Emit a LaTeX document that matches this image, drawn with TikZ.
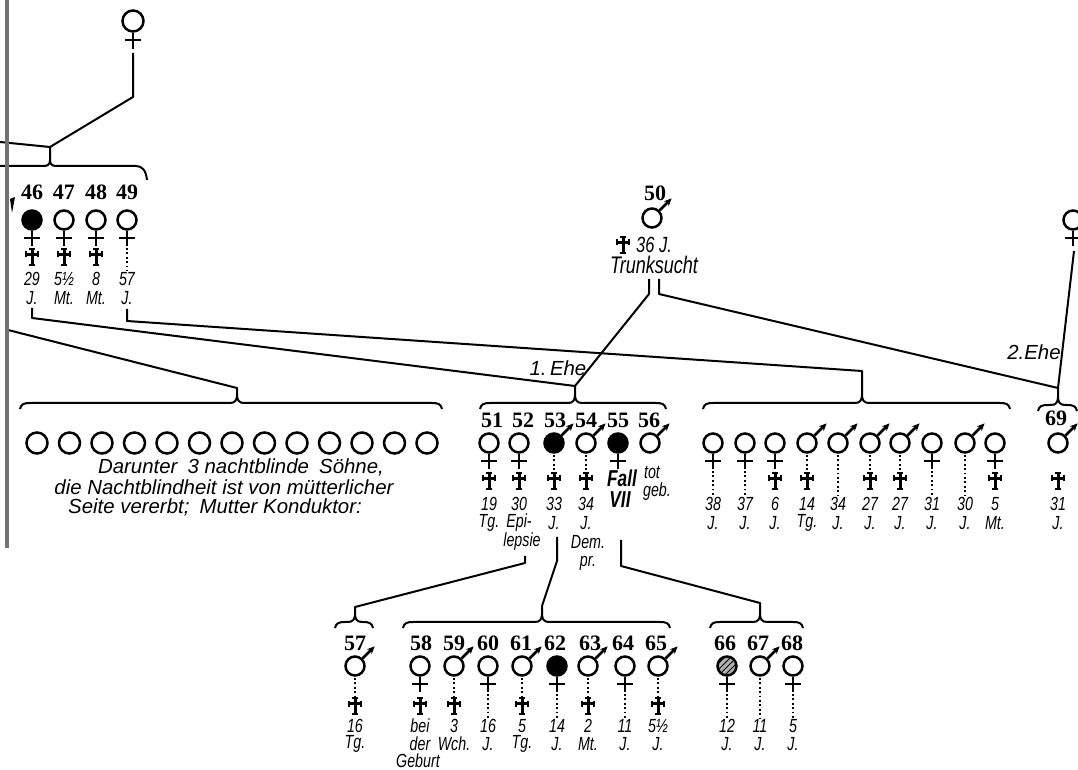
\documentclass[tikz,border=0pt]{standalone}
\usepackage{fontspec}
\setmainfont{Liberation Serif}
\newfontfamily\labfont{Liberation Sans}[FakeStretch=0.75]
\newfontfamily\txtfont{Liberation Sans}
\usetikzlibrary{arrows.meta,patterns}

\tikzset{
  conn/.style={line width=1pt, line join=round},
  symline/.style={line width=1.25pt},
  sym/.style={circle, draw, line width=1.25pt, minimum size=9.5pt, inner sep=0pt},
  aff/.style={sym, fill=black},
  hatch/.style={sym, preaction={fill=black!30}, pattern=north east lines},
  unk/.style={sym, minimum size=10.5pt},
  nr/.style={font=\bfseries\fontsize{11}{12}\selectfont, inner sep=0pt},
  lab/.style={font=\labfont\itshape\fontsize{9.5}{10}\selectfont, inner sep=0pt},
  txt/.style={font=\txtfont\itshape\fontsize{10.2}{11}\selectfont, inner sep=0pt},
  dots/.style={line width=0.9pt, dash pattern=on 0.9pt off 1.3pt},
  deathcross/.pic={
    \draw[line width=1.5pt] (0,-8) -- (0,8) (-6,-2.5) -- (6,-2.5);
    \draw[line width=1pt] (-3,-8) -- (3,-8) (-3,8) -- (3,8)
      (-6,-5.5) -- (-6,0.5) (6,-5.5) -- (6,0.5);
  }
}

% Person: Name, x, y, Geschlecht f/m, Stil, Modus (0 nichts, 1 Kreuz, 2 Punkte+Kreuz, 3 Punkte), Zeile 1, Zeile 2
\newcommand{\indiv}[8]{%
  \node[#5] (#1) at (#2,#3) {};
  \if#4m
    \draw[symline,-{Stealth[length=3.8pt,width=3.4pt]}] (#1.45) -- ++(12,-12);
    \def\dstart{#3+12}%
  \else
    \draw[symline] (#1.south) -- ++(0,15) ({#2-8},{#3+18}) -- ({#2+8},{#3+18});
    \def\dstart{#3+28}%
  \fi
  \ifcase#6\relax
  \or \pic at (#2,{#3+\cdy}) {deathcross};
  \or \draw[dots] (#2,{\dstart}) -- (#2,{#3+\cdy-9}); \pic at (#2,{#3+\cdy}) {deathcross};
  \or \draw[dots] (#2,{\dstart}) -- (#2,{#3+\ldy-8});
  \fi
  \node[lab] at (#2,{#3+\ldy}) {#7};
  \node[lab] at (#2,{#3+\ldy+\lgap}) {#8};
}

% Geschwisterklammer: x links, x Spitze, x rechts, y, Name der Spitze
\newcommand{\fbrace}[5]{%
  \draw[conn] ({#1},{#4+6}) .. controls ({#1+1},{#4+1}) and ({#1+4},{#4}) .. ({#1+10},{#4})
    -- ({#2-7},{#4}) .. controls ({#2-2},{#4}) and ({#2},{#4-3}) .. ({#2},{#4-8})
    .. controls ({#2},{#4-3}) and ({#2+2},{#4}) .. ({#2+7},{#4})
    -- ({#3-10},{#4}) .. controls ({#3-4},{#4}) and ({#3-1},{#4+1}) .. ({#3},{#4+6});
  \coordinate (#5) at ({#2},{#4-8});
}

\begin{document}
\begin{tikzpicture}[x=0.5pt,y=-0.5pt]
  \fill[white] (0,0) rectangle (1078,770);
  \useasboundingbox (0,0) rectangle (1078,770);
  \clip (0,0) rectangle (1078,770);

  % Ahnin oben links
  \node[sym, minimum size=10.5pt] (a1) at (133,21) {};
  \draw[symline] (a1.south) -- ++(0,16) (125,40) -- (141,40);
  \coordinate (a1s) at (133,53);
  \coordinate (k0) at (133,97);
  \coordinate (j0) at (50,147);
  \coordinate (e0) at (0,142);
  \coordinate (b0) at (50,160);
  \draw[conn] (a1s) -- (k0) -- (j0);
  \draw[conn] (e0) -- (j0) -- (b0);
  \draw[conn] (-40,166) -- (44,166) .. controls (48,166) and (50,164) .. (b0)
    .. controls (50,164) and (52,166) .. (56,166) -- (136,166)
    .. controls (142,166) and (146,170) .. (147,180);

  % Geschwister 46-49
  \foreach \n/\x in {46/32,47/64,48/96,49/127}
    \node[nr] at (\x,192) {\n};
  \def\cdy{37}\def\ldy{59}\def\lgap{19}
  \indiv{p46}{32}{220}{f}{aff}{1}{29}{J.}
  \indiv{p47}{64}{220}{f}{sym}{1}{5½}{Mt.}
  \indiv{p48}{96}{220}{f}{sym}{1}{8}{Mt.}
  \indiv{p49}{127}{220}{f}{sym}{3}{57}{J.}
  \fill (10,199) -- (15,197) -- (12,213) -- cycle;

  % 50 mit zwei Ehen
  \node[nr] at (655,193) {50};
  \node[sym] (p50) at (652,218) {};
  \draw[symline,-{Stealth[length=3.8pt,width=3.4pt]}] (p50.45) -- ++(12,-12);
  \pic at (623,245) {deathcross};
  \node[lab, font=\labfont\itshape\fontsize{11}{11}\selectfont] at (654,245) {36 J.};
  \node[lab, font=\labfont\itshape\fontsize{12}{12}\selectfont] at (654,265) {Trunksucht};
  \coordinate (s50a) at (649,279);
  \coordinate (s50b) at (659,279);

  % zweite Frau rechts oben
  \node[sym] (w2) at (1073,220) {};
  \draw[symline] (w2.south) -- ++(0,15) (1065,238) -- (1081,238);
  \coordinate (w2s) at (1074,251);

  % Klammern der Geschwisterreihen
  \fbrace{20}{237}{442}{403}{b4}
  \fbrace{480}{575}{666}{403}{b1}
  \fbrace{703}{862}{1010}{403}{b2}
  \fbrace{1038}{1058}{1077}{405}{b3}
  \fbrace{335}{355}{373}{622}{b5}
  \fbrace{403}{542}{670}{622}{b6}
  \fbrace{710}{760}{803}{622}{b7}

  % Verbindungen der Eltern
  \coordinate (e1) at (8,330);
  \coordinate (j4) at (237,388);
  \coordinate (l46) at (32,308);
  \coordinate (l49) at (127,309);
  \coordinate (j1) at (575,386);
  \coordinate (j2) at (862,371);
  \coordinate (j3) at (1058,388);
  \draw[conn] (e1) -- (j4) -- (b4);
  \draw[conn] (l46) -- ++(0,10) -- (j1) -- (b1);
  \draw[conn] (l49) -- ++(0,12) -- (j2) -- (b2);
  \draw[conn] (s50a) -- ++(0,15) -- (j1);
  \draw[conn] (s50b) -- ++(0,15) -- (j3) -- (b3);
  \draw[conn] (w2s) -- (j3);
  \node[txt] at (558,368) {1.\,Ehe};
  \node[txt] at (1034,352) {2.Ehe};

  % 13 Kinder, Geschlecht nicht angegeben
  \foreach \i in {0,...,12}
    \node[unk] (k\i) at ({37+32.5*\i},443) {};
  \node[txt] (t1) at (241,467) {Darunter\enspace 3 nachtblinde\enspace Söhne,};
  \node[txt] (t2) at (224,487) {die Nachtblindheit ist von mütterlicher};
  \node[txt] (t3) at (215,507) {Seite vererbt;\enspace Mutter Konduktor:};

  % Kinder der 1. Ehe
  \foreach \n/\x in {51/492,52/523,53/555,54/586,55/618,56/649}
    \node[nr] at (\x,420) {\n};
  \def\cdy{38}\def\ldy{61}\def\lgap{19}
  \indiv{p51}{489}{443}{f}{sym}{1}{19}{Tg.}
  \indiv{p52}{519}{443}{f}{sym}{1}{30}{Epi-}
  \indiv{p53}{554}{443}{m}{aff}{2}{33}{J.}
  \indiv{p54}{586}{443}{m}{sym}{2}{34}{J.}
  \indiv{p55}{618}{443}{f}{aff}{0}{}{}
  \indiv{p56}{650}{443}{m}{sym}{0}{}{}
  \node[lab] at (522,542) {lepsie};
  \node[lab] at (588,542) {Dem.};
  \node[lab] at (588,563) {pr.};
  \node[lab, font=\labfont\bfseries\itshape\fontsize{11.5}{11}\selectfont] at (622,478) {Fall};
  \node[lab, font=\labfont\bfseries\itshape\fontsize{11.5}{11}\selectfont] at (620,500) {VII};
  \node[lab] at (652,472) {tot};
  \node[lab] at (657,492) {geb.};

  % Kinder rechts
  \indiv{r1}{713}{443}{f}{sym}{3}{38}{J.}
  \indiv{r2}{745}{443}{f}{sym}{3}{37}{J.}
  \indiv{r3}{775}{443}{f}{sym}{1}{6}{J.}
  \indiv{r4}{807}{443}{m}{sym}{2}{14}{Tg.}
  \indiv{r5}{838}{443}{m}{sym}{3}{34}{J.}
  \indiv{r6}{870}{443}{m}{sym}{2}{27}{J.}
  \indiv{r7}{900}{443}{m}{sym}{2}{27}{J.}
  \indiv{r8}{932}{443}{f}{sym}{3}{31}{J.}
  \indiv{r9}{965}{443}{m}{sym}{3}{30}{J.}
  \indiv{r10}{995}{443}{f}{sym}{1}{5}{Mt.}
  \node[nr] at (1056,418) {69};
  \indiv{p69}{1058}{443}{m}{sym}{1}{31}{J.}

  % Enkel
  \coordinate (l52) at (525,556);
  \coordinate (j5) at (355,607);
  \coordinate (l53) at (557,537);
  \coordinate (j6) at (542,606);
  \coordinate (l55) at (621,540);
  \coordinate (j7) at (760,603);
  \draw[conn] (l52) -- ++(0,7) -- (j5) -- (b5);
  \draw[conn] (l53) -- ++(0,24) -- (j6) -- (b6);
  \draw[conn] (l55) -- ++(0,26) -- (j7) -- (b7);
  \foreach \n/\x in {57/355,58/421,59/454,60/488,61/521,62/555,63/590,64/623,65/656,66/725,67/758,68/792}
    \node[nr] at (\x,643) {\n};
  \def\cdy{40}\def\ldy{60}\def\lgap{18}
  \indiv{p57}{355}{666}{m}{sym}{2}{16}{Tg.}
  \indiv{p58}{420}{666}{f}{sym}{1}{bei}{der}
  \node[lab] at (418,761) {Geburt};
  \indiv{p59}{454}{666}{m}{sym}{2}{3}{Wch.}
  \indiv{p60}{488}{666}{f}{sym}{3}{16}{J.}
  \indiv{p61}{522}{666}{m}{sym}{2}{5}{Tg.}
  \indiv{p62}{557}{666}{f}{aff}{3}{14}{J.}
  \indiv{p63}{588}{666}{m}{sym}{2}{2}{Mt.}
  \indiv{p64}{625}{666}{f}{sym}{3}{11}{J.}
  \indiv{p65}{658}{666}{m}{sym}{2}{5½}{J.}
  \indiv{p66}{727}{666}{f}{hatch}{3}{12}{J.}
  \indiv{p67}{760}{666}{m}{sym}{3}{11}{J.}
  \indiv{p68}{793}{666}{f}{sym}{3}{5}{J.}

  % Buchfalz links
  \draw[line width=2.2pt, black!55] (7,0) -- (7,548);
\end{tikzpicture}
\end{document}
